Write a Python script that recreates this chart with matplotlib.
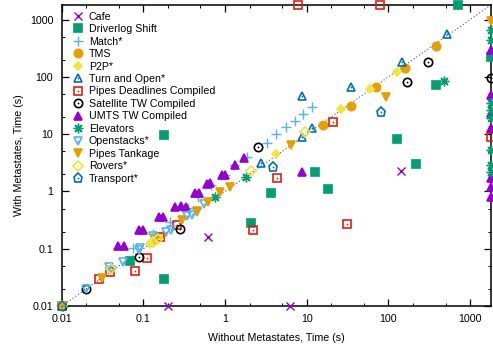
import matplotlib
matplotlib.use("Agg")
import matplotlib.pyplot as plt
from matplotlib.ticker import LogLocator, FixedLocator, FixedFormatter, NullFormatter

plt.rcParams.update({"font.family": ["Liberation Sans", "DejaVu Sans"], "font.size": 7.7})

TIMEOUT = 1800

# 각 도메인 (without, with) 시간 — 그림에서 읽은 값
cafe_x = [0.2, 0.61, 6.2, 143]
cafe_y = [0.01, 0.16, 0.01, 2.3]
driver_x = [0.068, 0.18, 0.18, 2.05, 3.7, 12.7, 18, 128, 220, 380, 710, TIMEOUT]
driver_y = [0.061, 0.03, 9.8, 0.28, 0.95, 2.2, 1.1, 8.3, 3.0, 73, TIMEOUT, 225]
match_x = [0.074, 0.13, 0.21, 0.35, 0.47, 0.68, 0.99, 1.27, 1.88, 3.3, 4.26, 5.64, 7.26, 9.1, 11.7]
match_y = [0.103, 0.18, 0.29, 0.52, 0.8, 1.3, 1.95, 2.9, 4.0, 7.1, 10.2, 13.5, 17.1, 22.7, 30]
tms_x = [0.01, 16, 35, 71, 160, 383]
tms_y = [0.01, 14.6, 31.4, 67, 145, 351]
p2p_x = [0.01, 0.12, 0.17, 4.26, 26.4, 60, 128]
p2p_y = [0.01, 0.12, 0.17, 4.54, 27.8, 62, 123]
turn_x = [2.79, 8.84, 11.7, 8.84, 35, 147, 521]
turn_y = [3.16, 9.0, 12.9, 46.9, 67.4, 184, 569]
pipesdl_x = [0.01, 0.029, 0.039, 0.078, 0.11, 0.16, 0.26, 2.2, 4.3, 21, 31, 7.9, 79, TIMEOUT]
pipesdl_y = [0.01, 0.03, 0.039, 0.041, 0.069, 0.16, 0.26, 0.21, 1.7, 16, 0.27, TIMEOUT, TIMEOUT, 9.0]
sat_x = [0.01, 0.02, 0.088, 0.28, 2.5, 170, 305, TIMEOUT]
sat_y = [0.01, 0.02, 0.072, 0.22, 6.0, 82, 184, 97]
umts_x = [0.049, 0.058, 0.088, 0.098, 0.154, 0.172, 0.242, 0.286, 0.33, 0.424, 0.474,
          0.594, 0.647, 0.906, 0.986, 1.34, 1.73, 8.84,
          TIMEOUT, TIMEOUT, TIMEOUT, TIMEOUT, TIMEOUT, TIMEOUT, TIMEOUT]
umts_y = [0.112, 0.112, 0.213, 0.213, 0.36, 0.36, 0.54, 0.56, 0.54, 0.95, 0.95,
          1.36, 1.41, 1.95, 1.95, 2.92, 3.87, 2.2,
          299, 48.9, 23.7, 12.9, 1.73, 1.2, 0.8]
elev_x = [0.75, 1.8, 480, TIMEOUT, TIMEOUT, TIMEOUT, TIMEOUT, TIMEOUT, TIMEOUT, TIMEOUT, TIMEOUT]
elev_y = [0.8, 1.8, 86, 668, 447, 35.4, 26.7, 19.4, 5.33, 2.92, 2.2]
open_x = [0.01, 0.02, 0.038, 0.04, 0.056, 0.088, 0.09, 0.13, 0.19, 0.22, 0.34, 0.39, 0.45, 0.55]
open_y = [0.01, 0.02, 0.048, 0.043, 0.059, 0.095, 0.105, 0.167, 0.2, 0.21, 0.37, 0.39, 0.44, 0.6]
tank_x = [0.01, 0.031, 0.14, 0.3, 0.45, 0.61, 0.86, 1.14, 6.5, 94, TIMEOUT]
tank_y = [0.01, 0.031, 0.143, 0.32, 0.46, 0.66, 0.98, 1.2, 6.5, 45, 960]
rovers_x = [0.01, 0.04, 0.13, 0.15, 2.05, 9.6]
rovers_y = [0.01, 0.045, 0.13, 0.15, 2.3, 11]
trans_x = [0.01, 3.9, 81]
trans_y = [0.01, 2.7, 24]

PURPLE, GREEN, LBLUE, ORANGE = "#9400d3", "#009e73", "#56b4e9", "#e69f00"
YELLOW, BLUE, RED, BLACK = "#f0e442", "#0072b2", "#e51e10", "#000000"

# (label, x, y, marker, color, filled, size)
SERIES = [
    ("Cafe", cafe_x, cafe_y, "x", PURPLE, True, 6),
    ("Driverlog Shift", driver_x, driver_y, "s", GREEN, True, 6),
    ("Match*", match_x, match_y, "+", LBLUE, True, 7),
    ("TMS", tms_x, tms_y, "o", ORANGE, True, 6),
    ("P2P*", p2p_x, p2p_y, "D", YELLOW, True, 4.3),
    ("Turn and Open*", turn_x, turn_y, "^", BLUE, False, 6),
    ("Pipes Deadlines Compiled", pipesdl_x, pipesdl_y, "s", RED, False, 6),
    ("Satellite TW Compiled", sat_x, sat_y, "o", BLACK, False, 6),
    ("UMTS TW Compiled", umts_x, umts_y, "^", PURPLE, True, 6),
    ("Elevators", elev_x, elev_y, (8, 2, 0), GREEN, True, 7),
    ("Openstacks*", open_x, open_y, "v", LBLUE, False, 6),
    ("Pipes Tankage", tank_x, tank_y, "v", ORANGE, True, 6),
    ("Rovers*", rovers_x, rovers_y, "D", YELLOW, False, 4.8),
    ("Transport*", trans_x, trans_y, "p", BLUE, False, 6.5),
]

fig = plt.figure(figsize=(4.93, 3.49), dpi=100)
ax = fig.add_axes([0.125, 0.123, 0.871, 0.863])
ax.set_xscale("log"); ax.set_yscale("log")
ax.set_xlim(0.01, TIMEOUT); ax.set_ylim(0.01, TIMEOUT)

ax.plot([0.01, TIMEOUT], [0.01, TIMEOUT], color="#555555", lw=0.8,
        linestyle=(0, (1, 2)), zorder=1)

handles = []
for label, xs, ys, mk, col, filled, ms in SERIES:
    mew = 1.0 if mk in ("x", "+") or isinstance(mk, tuple) else 1.2
    h, = ax.plot(xs, ys, linestyle="none", marker=mk, ms=ms, mew=mew,
                 mec=col, mfc=col if filled else "none", clip_on=False, zorder=3)
    if filled:
        handles.append(h)
    else:
        d, = ax.plot(xs, ys, linestyle="none", marker="o", ms=1.3, mew=0,
                     mfc=col, clip_on=False, zorder=3)
        handles.append((h, d))

leg = ax.legend(handles, [s[0] for s in SERIES], loc="upper left", bbox_to_anchor=(0.01, 0.995),
                frameon=False, borderaxespad=0.3, borderpad=0.2, handlelength=1.2,
                handletextpad=0.45, labelspacing=0.23, fontsize=7.7)

major = [0.01, 0.1, 1, 10, 100, 1000]
labels = ["0.01", "0.1", "1", "10", "100", "1000"]
for axis in (ax.xaxis, ax.yaxis):
    axis.set_major_locator(FixedLocator(major))
    axis.set_major_formatter(FixedFormatter(labels))
    axis.set_minor_locator(LogLocator(base=10, subs=(2, 5)))
    axis.set_minor_formatter(NullFormatter())
ax.tick_params(which="both", direction="in", top=True, right=True, colors="black")
ax.tick_params(which="major", length=5, width=0.9)
ax.tick_params(which="minor", length=2.5, width=0.7)
ax.tick_params(axis="x", pad=6)
ax.tick_params(axis="y", pad=6)
for sp in ax.spines.values():
    sp.set_linewidth(1.1)

ax.set_xlabel("Without Metastates, Time (s)", labelpad=6)
ax.set_ylabel("With Metastates, Time (s)", labelpad=4)

fig.savefig("out.png", dpi=100)
